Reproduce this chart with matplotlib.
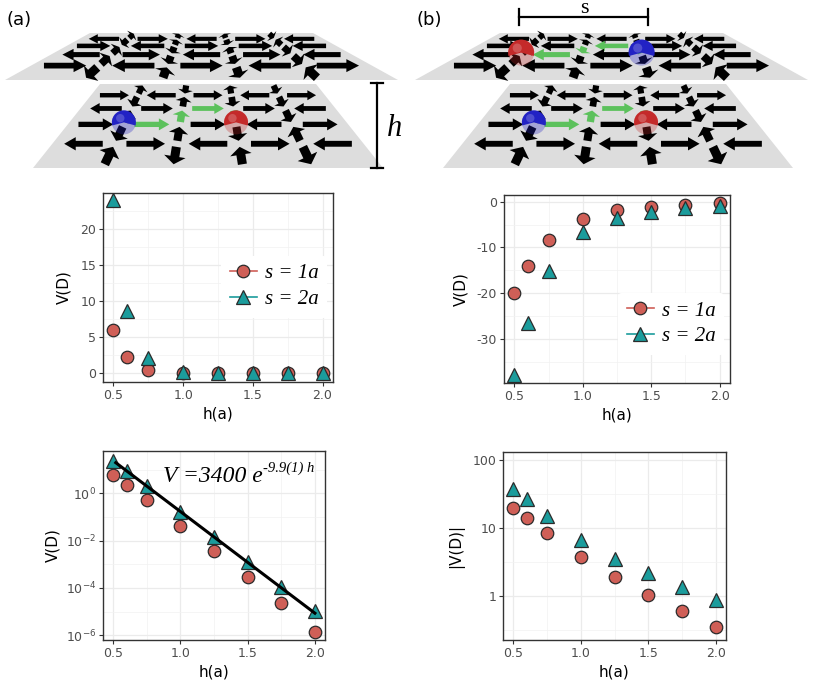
import math
import matplotlib.pyplot as plt
from matplotlib.patches import Polygon, Circle, Wedge
from matplotlib.lines import Line2D

# ---------------- data ----------------
h = [0.5, 0.6, 0.75, 1.0, 1.25, 1.5, 1.75, 2.0]
va_s1 = [6.0, 2.2, 0.52, 0.042, 0.0035, 3.0e-4, 2.4e-5, 1.4e-6]
va_s2 = [24.0, 8.7, 2.1, 0.17, 0.014, 1.2e-3, 1.1e-4, 1.1e-5]
vb_s1 = [20.0, 14.1, 8.4, 3.8, 1.88, 1.03, 0.6, 0.35]
vb_s2 = [38.0, 26.5, 15.2, 6.7, 3.5, 2.15, 1.36, 0.87]
fit_A, fit_k = 3400, 9.9
fit_h = [0.52, 2.0]
legend_labels = ["s = 1a", "s = 2a"]

# spin configurations (+1 right / toward viewer, -1 left / away)
low_h = [[1, -1, 1, -1, 1], [-1, 1, 1, 1, -1], [1, 1, 1, -1, 1], [-1, 1, -1, 1, -1]]
low_v = [[-1, 1, -1, 1], [1, -1, 1, 1], [-1, -1, 1, 1], [1, -1, 1, -1], [-1, 1, -1, 1]]
top_h = [[-1, 1, -1, 1, -1], [1, -1, 1, 1, -1], [-1, 1, -1, 1, -1], [1, -1, 1, -1, 1]]
top_v = [[-1, -1, -1, 1], [1, -1, 1, -1], [-1, 1, -1, 1], [-1, 1, 1, 1], [1, -1, 1, -1]]
topb_h = [[-1, 1, -1, 1, -1], [1, -1, -1, 1, -1], [-1, -1, -1, 1, -1], [1, -1, 1, -1, 1]]
topb_v = [[-1, -1, -1, 1], [1, -1, 1, -1], [-1, 1, -1, 1], [-1, 1, 1, 1], [1, -1, 1, -1]]
string_cells = [("h", 2, 1), ("h", 1, 2), ("v", 2, 1), ("v", 2, 2)]

RED = "#CF5F57"
TEAL = "#1B9C9C"
EDGE = "#2b2b2b"
GREEN = "#5cc15c"

fig = plt.figure(figsize=(8.18, 6.96), dpi=100)

# ---------------- illustration layer (pixel coords) ----------------
ov = fig.add_axes([0, 0, 1, 1])
ov.set_xlim(0, 818)
ov.set_ylim(696, 0)
ov.axis("off")


def scale(v, sh):
    r = sh["wf"] / sh["wn"]
    zf = 1.0 / r
    return 1.0 / (zf + (1 - zf) * v / 5.0)


def proj(u, v, sh):
    r = sh["wf"] / sh["wn"]
    s = scale(v, sh)
    y = sh["yf"] + (sh["yn"] - sh["yf"]) * (s - r) / (1 - r)
    x = sh["xc"] + (u / 5.0 - 0.5) * sh["wn"] * s
    return x, y


def arrow_screen(cu, cv, du, dv, sh, L, a, b, hlf):
    # arrow axis follows the perspective, thickness stays in screen pixels
    x0, y0 = proj(cu - du * L / 2, cv - dv * L / 2, sh)
    x1, y1 = proj(cu + du * L / 2, cv + dv * L / 2, sh)
    s = scale(cv, sh)
    ln = math.hypot(x1 - x0, y1 - y0)
    ux, uy = (x1 - x0) / ln, (y1 - y0) / ln
    nx, ny = -uy, ux
    a, b = a * s, b * s
    hl = hlf * ln
    base = [(0, a), (ln - hl, a), (ln - hl, b), (ln, 0), (ln - hl, -b), (ln - hl, -a), (0, -a)]
    return [(x0 + t * ux + w * nx, y0 + t * uy + w * ny) for t, w in base]


def draw_ball(x, y, r, color):
    ov.add_patch(Circle((x, y), r, fc=color, ec="none", alpha=0.3, zorder=5))
    ov.add_patch(Wedge((x, y), r, 165, 375, fc=color, ec="none", zorder=5))
    ov.add_patch(Circle((x - r * 0.3, y - r * 0.35), r * 0.35, fc="white",
                        ec="none", alpha=0.2, zorder=6))


def draw_sheet(sh, hs, vs, green=False, balls=()):
    corners = [proj(0, 0, sh), proj(5, 0, sh), proj(5, 5, sh), proj(0, 5, sh)]
    ov.add_patch(Polygon(corners, closed=True, fc="#dddddd", ec="none", zorder=1))
    for j, row in enumerate(hs):
        for i, d in enumerate(row):
            col = GREEN if green and ("h", j, i) in string_cells else "black"
            pts = arrow_screen(i + 0.5, j + 1, d, 0, sh, 0.62, 3.3, 7.5, 0.3)
            ov.add_patch(Polygon(pts, closed=True, fc=col, ec="none", zorder=2))
    for j, row in enumerate(vs):
        for i, d in enumerate(row):
            col = GREEN if green and ("v", j, i) in string_cells else "black"
            pts = arrow_screen(i + 1, j + 0.5, 0, d, sh, 0.72, 4.8, 11.5, 0.45)
            ov.add_patch(Polygon(pts, closed=True, fc=col, ec="none", zorder=2))
    for (u, v, color, r) in balls:
        x, y = proj(u, v, sh)
        draw_ball(x, y - 2, r, color)


for dx, label in [(0, "(a)"), (410, "(b)")]:
    top = dict(yf=33, yn=80, xc=201.5 + dx, wf=223, wn=393)
    low = dict(yf=84, yn=168, xc=208 + dx, wf=216, wn=350)
    if dx == 0:
        draw_sheet(top, top_h, top_v)
    else:
        draw_sheet(top, topb_h, topb_v, green=True,
                   balls=[(1, 3, "#c42a2a", 13), (3, 3, "#2222c4", 13)])
    draw_sheet(low, low_h, low_v, green=True,
               balls=[(1, 3, "#2222c4", 12), (3, 3, "#c42a2a", 12)])
    ov.text(6 + dx, 20, label, fontsize=13, va="center", ha="left")

# h bar
ov.plot([377, 377], [83, 168], color="black", lw=1.6)
ov.plot([371, 383], [83, 83], color="black", lw=1.6)
ov.plot([371, 383], [168, 168], color="black", lw=1.6)
ov.text(387, 128, "h", fontsize=22, family="Liberation Serif", style="italic",
        va="center", ha="left")
# s bar
ov.plot([519, 648], [17, 17], color="black", lw=1.6)
ov.plot([519, 519], [9, 25], color="black", lw=1.6)
ov.plot([648, 648], [9, 25], color="black", lw=1.6)
ov.text(584, 13, "s", fontsize=16, family="Liberation Serif", va="baseline", ha="center")


# ---------------- plots ----------------
def px_axes(x0, y0, x1, y1):
    return fig.add_axes([x0 / 818, 1 - y1 / 696, (x1 - x0) / 818, (y1 - y0) / 696])


def style(ax):
    for sp in ax.spines.values():
        sp.set_color("#333333")
        sp.set_linewidth(1.0)
    ax.grid(True, which="major", color="#EBEBEB", lw=0.9)
    ax.grid(True, which="minor", color="#F2F2F2", lw=0.5)
    ax.set_axisbelow(True)
    ax.tick_params(which="major", direction="out", length=3, width=0.8,
                   color="#333333", labelcolor="#4D4D4D", labelsize=9, pad=2)
    ax.tick_params(which="minor", length=0)
    ax.set_xlim(0.425, 2.075)
    ax.set_xticks([0.5, 1.0, 1.5, 2.0])
    ax.set_xticklabels(["0.5", "1.0", "1.5", "2.0"])
    ax.set_xticks([0.75, 1.25, 1.75], minor=True)
    ax.set_xlabel("h(a)", fontsize=11, labelpad=3)


def points(ax, y1, y2):
    ax.plot(h, y1, ls="none", marker="o", ms=9, mfc=RED, mec=EDGE, mew=0.9, zorder=3)
    ax.plot(h, y2, ls="none", marker="^", ms=10, mfc=TEAL, mec=EDGE, mew=0.9, zorder=3)


def legend(ax, anchor):
    handles = [
        Line2D([], [], color=RED, lw=1.2, marker="o", ms=9, mfc=RED, mec=EDGE, mew=0.9),
        Line2D([], [], color=TEAL, lw=1.2, marker="^", ms=10, mfc=TEAL, mec=EDGE, mew=0.9),
    ]
    ax.legend(handles, legend_labels, loc="center", bbox_to_anchor=anchor,
              frameon=True, facecolor="white", edgecolor="none", framealpha=1,
              prop=dict(family="Liberation Serif", style="italic", size=15),
              handlelength=1.3, handletextpad=0.4, labelspacing=0.3, borderpad=0.4)


ax1 = px_axes(103, 193, 333, 382)
style(ax1)
points(ax1, va_s1, va_s2)
ax1.set_ylim(-1.2, 25.0)
ax1.set_yticks([0, 5, 10, 15, 20])
ax1.set_yticks([2.5, 7.5, 12.5, 17.5, 22.5], minor=True)
ax1.set_ylabel("V(D)", fontsize=11, labelpad=6)
legend(ax1, (0.745, 0.505))

ax2 = px_axes(504, 195, 730, 383)
style(ax2)
points(ax2, [-v for v in vb_s1], [-v for v in vb_s2])
ax2.set_ylim(-39.7, 1.5)
ax2.set_yticks([-30, -20, -10, 0])
ax2.set_yticklabels(["-30", "-20", "-10", "0"])
ax2.set_yticks([-35, -25, -15, -5], minor=True)
ax2.set_ylabel("V(D)", fontsize=11, labelpad=6)
legend(ax2, (0.74, 0.315))

ax3 = px_axes(103, 451, 325, 640)
style(ax3)
ax3.set_yscale("log")
points(ax3, va_s1, va_s2)
ax3.plot(fit_h, [fit_A * math.exp(-fit_k * x) for x in fit_h],
         color="black", lw=2.2, zorder=4)
ax3.set_ylim(10 ** -6.2, 10 ** 1.79)
ax3.set_yticks([1e-6, 1e-4, 1e-2, 1])
ax3.set_yticklabels([r"$10^{-6}$", r"$10^{-4}$", r"$10^{-2}$", r"$10^{0}$"])
ax3.set_yticks([1e-5, 1e-3, 1e-1, 10], minor=True)
ax3.set_yticklabels([], minor=True)
ax3.set_ylabel("V(D)", fontsize=11, labelpad=4)
eq = ax3.text(0.27, 0.835, "V =3400 e", transform=ax3.transAxes,
              family="Liberation Serif", style="italic", fontsize=17,
              va="baseline", ha="left", zorder=5)
ax3.annotate("-9.9(1) h", xy=(1.0, 0.58), xycoords=eq, family="Liberation Serif",
             style="italic", fontsize=10.5, va="bottom", ha="left", zorder=5)

ax4 = px_axes(503, 452, 726, 640)
style(ax4)
ax4.set_yscale("log")
points(ax4, vb_s1, vb_s2)
ax4.set_ylim(0.225, 132)
ax4.set_yticks([1, 10, 100])
ax4.set_yticklabels(["1", "10", "100"])
ax4.set_yticks([10 ** -0.5, 10 ** 0.5, 10 ** 1.5], minor=True)
ax4.set_yticklabels([], minor=True)
ax4.set_ylabel("|V(D)|", fontsize=11, labelpad=6)

fig.savefig("out.png", dpi=100)
